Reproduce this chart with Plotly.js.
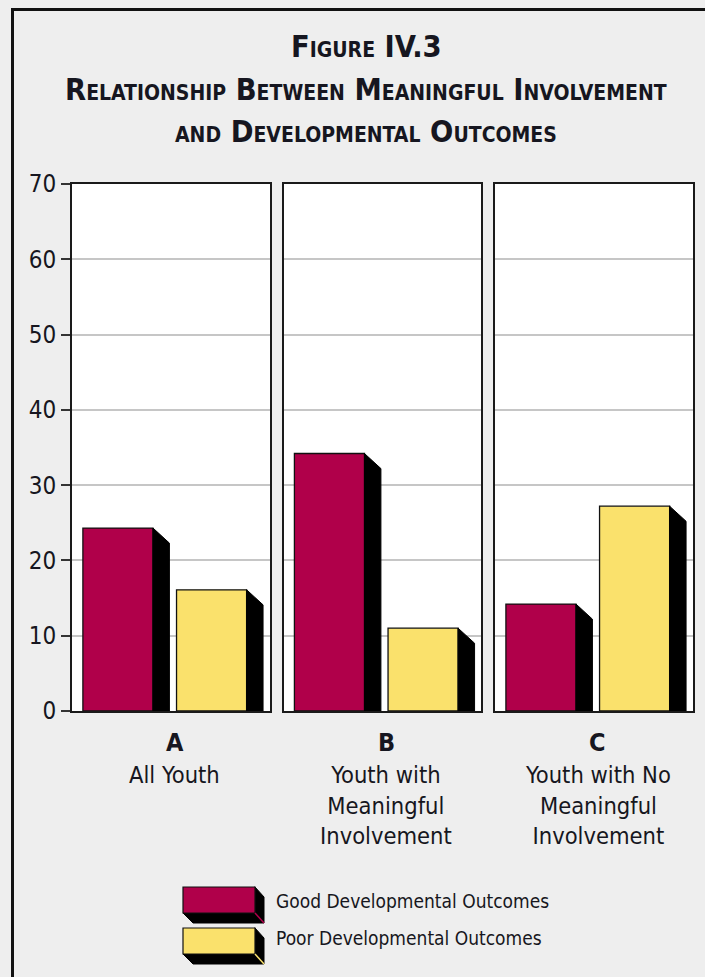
<!DOCTYPE html>
<html><head><meta charset="utf-8">
<script src="https://cdn.plot.ly/plotly-3.0.1.min.js"></script>
<style>html,body{margin:0;padding:0;background:#eeeeee;}</style>
</head><body><div id="chart" style="width:705px;height:977px;"></div>
<script>
// ---- data ----
const panelLetters = ['A', 'B', 'C'];
const panelNames = ['All Youth', 'Youth with<br>Meaningful<br>Involvement', 'Youth with No<br>Meaningful<br>Involvement'];
const seriesNames = ['Good Developmental Outcomes', 'Poor Developmental Outcomes'];
const goodValues = [24.3, 34.2, 14.2];
const poorValues = [16.1, 11.0, 27.2];
const yTicks = [0, 10, 20, 30, 40, 50, 60, 70];
const titleLines = ['Figure IV.3', 'Relationship Between Meaningful Involvement', 'and Developmental Outcomes'];

// ---- styling / layout ----
const colors = ['#B0004A', '#FAE16C'];
const TXT = '#161620';
const FONT = '"DejaVu Sans Condensed", "Liberation Sans Narrow", sans-serif';
const TICKFONT = '"Liberation Sans Narrow", "DejaVu Sans Condensed", sans-serif';
const W = 705, H = 977, M = {l: 72, r: 12, t: 184, b: 266};
const pw = W - M.l - M.r, ph = H - M.t - M.b;
const px = x => (x - M.l) / pw;
const py = y => (H - M.b - y) / ph;

const domains = [[0, 0.3188], [0.3406, 0.6594], [0.6812, 1]];
const barCenters = [0.232, 0.705];
const barWidth = 0.354;
const depthX = 0.083, depthY = 2.0;

const series = [goodValues, poorValues];
const traces = [];
panelLetters.forEach((p, i) => {
  const xa = 'x' + (i ? i + 1 : ''), ya = 'y' + (i ? i + 1 : '');
  series.forEach((vals, s) => {
    const v = vals[i];
    const right = barCenters[s] + barWidth / 2;
    traces.push({
      type: 'scatter', mode: 'lines', xaxis: xa, yaxis: ya,
      x: [right, right + depthX, right + depthX, right, right],
      y: [v, v - depthY, 0, 0, v],
      fill: 'toself', fillcolor: '#000', line: {color: '#000', width: 1},
      hoverinfo: 'skip', showlegend: false
    });
    traces.push({
      type: 'bar', xaxis: xa, yaxis: ya, name: seriesNames[s],
      x: [barCenters[s]], y: [v], width: [barWidth],
      marker: {color: colors[s], line: {color: '#111', width: 1.3}},
      showlegend: false
    });
  });
});

const layout = {
  width: W, height: H, margin: M,
  paper_bgcolor: '#eeeeee', plot_bgcolor: '#ffffff',
  showlegend: false, barmode: 'overlay',
  font: {family: FONT, color: TXT},
  shapes: [], annotations: []
};
domains.forEach((d, i) => {
  const sfx = i ? i + 1 : '';
  layout['xaxis' + sfx] = {
    domain: d, range: [0, 1], anchor: 'y' + sfx,
    showgrid: false, zeroline: false, showticklabels: false, ticks: '',
    showline: true, linecolor: '#1a1a1a', linewidth: 2, mirror: true, fixedrange: true
  };
  layout['yaxis' + sfx] = {
    range: [0, 70], anchor: 'x' + sfx, tickvals: yTicks,
    showgrid: true, gridcolor: '#c6c6c6', gridwidth: 2, zeroline: false,
    showline: true, linecolor: '#1a1a1a', linewidth: 2, mirror: true,
    ticks: i ? '' : 'outside', ticklen: 9, tickwidth: 2, tickcolor: '#333',
    showticklabels: i === 0,
    tickfont: {family: TICKFONT, size: 24, color: TXT}, fixedrange: true
  };
  layout.annotations.push({
    xref: 'x' + sfx, yref: 'paper', x: 0.52, y: py(742), yanchor: 'middle',
    text: '<b>' + panelLetters[i] + '</b>', showarrow: false,
    font: {family: FONT, size: 25, color: TXT}
  });
  layout.annotations.push({
    xref: 'x' + sfx, yref: 'paper', x: 0.52, y: py(759), yanchor: 'top',
    text: panelNames[i], showarrow: false,
    font: {family: FONT, size: 23.5, color: TXT}
  });
});

// title lines
[47, 90, 131].forEach((yc, k) => {
  layout.annotations.push({
    xref: 'paper', yref: 'paper', x: px(366), y: py(yc), yanchor: 'middle',
    text: titleLines[k], showarrow: false,
    font: {family: FONT, size: 30.5, color: TXT, weight: 'bold', variant: 'small-caps'}
  });
});

// outer frame
layout.shapes.push({
  type: 'rect', xref: 'paper', yref: 'paper', layer: 'below',
  x0: px(12.5), x1: px(800), y0: py(1100), y1: py(9.5),
  line: {color: '#111', width: 3}, fillcolor: 'rgba(0,0,0,0)'
});

// legend (drawn keys)
const legendTops = [887, 928];
const legendTextY = [900.5, 938];
legendTops.forEach((top, s) => {
  const L = 183, R = 255, B = top + 26, d = 9, dv = 10;
  layout.shapes.push({
    type: 'path', xref: 'paper', yref: 'paper',
    path: `M${px(L)},${py(B)} L${px(L + 10)},${py(B + dv)} L${px(R + d)},${py(B + dv)} L${px(R + d)},${py(top + 10)} L${px(R)},${py(top)} Z`,
    fillcolor: '#000', line: {color: '#000', width: 1}
  });
  layout.shapes.push({
    type: 'rect', xref: 'paper', yref: 'paper',
    x0: px(L), x1: px(R), y0: py(B), y1: py(top),
    fillcolor: colors[s], line: {color: '#111', width: 1.2}
  });
  layout.shapes.push({
    type: 'line', xref: 'paper', yref: 'paper',
    x0: px(R), y0: py(B), x1: px(R + d), y1: py(B + dv),
    line: {color: colors[s], width: 1.5}
  });
  layout.annotations.push({
    xref: 'paper', yref: 'paper', x: px(274), xanchor: 'left', y: py(legendTextY[s]), yanchor: 'middle',
    text: seriesNames[s], showarrow: false, font: {family: FONT, size: 19, color: TXT}
  });
});

Plotly.newPlot('chart', traces, layout, {displayModeBar: false, staticPlot: true});
</script></body></html>
